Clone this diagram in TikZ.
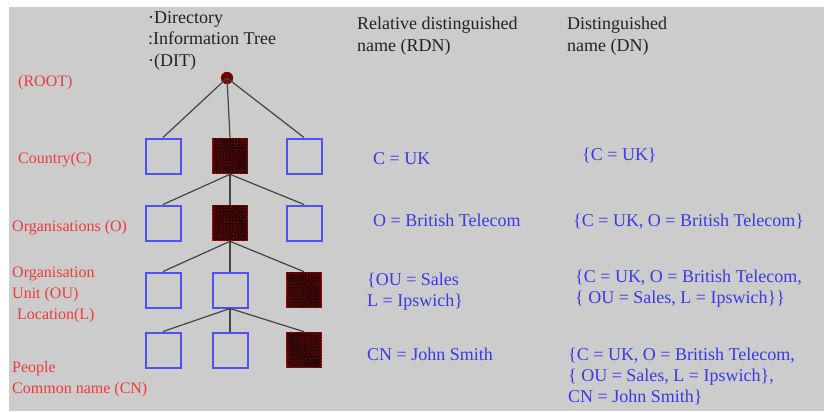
\documentclass[tikz,border=0pt]{standalone}
\usepackage{fontspec}
\setmainfont{Liberation Serif}
\usetikzlibrary{patterns}
\definecolor{panel}{HTML}{CCCCCC}
\definecolor{levelred}{HTML}{F03A3A}
\definecolor{valblue}{HTML}{3A3AE6}
\definecolor{boxblue}{HTML}{5050F5}
\definecolor{maroon}{HTML}{700000}
\definecolor{headgray}{HTML}{222222}
\definecolor{linkgray}{HTML}{444444}
\begin{document}
\begin{tikzpicture}[x=1bp,y=-1bp,
  level/.style={anchor=base west,inner sep=0pt,text=levelred,
    font=\fontsize{16bp}{21bp}\selectfont,align=left},
  heading/.style={anchor=base west,inner sep=0pt,text=headgray,
    font=\fontsize{18bp}{21.5bp}\selectfont,align=left},
  value/.style={anchor=base west,inner sep=0pt,text=valblue,
    font=\fontsize{18bp}{21bp}\selectfont,align=left},
  entry/.style={draw=boxblue,line width=2bp,minimum width=35bp,
    minimum height=35bp,inner sep=0pt},
  chosen/.style={draw=red!85!black,line width=1.6bp,fill=maroon,
    minimum width=35bp,minimum height=35bp,inner sep=0pt,
    postaction={pattern=crosshatch,pattern color=black}},
  link/.style={draw=linkgray,line width=1.2bp}]
% panel
\fill[white] (0,0) rectangle (825,411);
\fill[panel] (9,7) rectangle (824,411);
\useasboundingbox (0,0) rectangle (825,411);

% column headings (multi-line nodes sit on the baseline of their last line)
\node[heading] (dit) at (148,66) {·Directory\\:Information Tree\\·(DIT)};
\node[heading] (rdnhead) at (357,51) {Relative distinguished\\name (RDN)};
\node[heading] (dnhead) at (567,51) {Distinguished\\name (DN)};

% level names
\node[level] (lroot) at (18,86) {(ROOT)};
\node[level] (lc) at (18,163) {Country(C)};
\node[level] (lo) at (12,231) {Organisations (O)};
\node[level] (lou) at (12,319) {Organisation\\Unit (OU)\\\hspace*{5bp}Location(L)};
\node[level] (lcn) at (12,393) {People\\Common name (CN)};

% tree
\node[circle,fill=maroon,draw=maroon!80!red,minimum size=12bp,inner sep=0pt] (root) at (227,78) {};
\node[entry]  (c1) at (163,156) {};
\node[chosen] (c2) at (230,156) {};
\node[entry]  (c3) at (304,156) {};
\node[entry]  (o1) at (163,223) {};
\node[chosen] (o2) at (230,223) {};
\node[entry]  (o3) at (304,223) {};
\node[entry]  (u1) at (163,290) {};
\node[entry]  (u2) at (230,290) {};
\node[chosen] (u3) at (304,290) {};
\node[entry]  (p1) at (163,350) {};
\node[entry]  (p2) at (230,350) {};
\node[chosen] (p3) at (304,350) {};

\draw[link] (root.center) -- (c1.north);
\draw[link] (root.center) -- (c2.north);
\draw[link] (root.center) -- (c3.north);
\draw[link] (c2.south) -- (o1.north);
\draw[link] (c2.south) -- (o2.north);
\draw[link] (c2.south) -- (o3.north);
\draw[link] (o2.south) -- (u1.north);
\draw[link] (o2.south) -- (u2.north);
\draw[link] (o2.south) -- (u3.north);
\draw[link] (u2.south) -- (p1.north);
\draw[link] (u2.south) -- (p2.north);
\draw[link] (u2.south) -- (p3.north);

% relative distinguished names
\node[value] (rc) at (373,164) {C = UK};
\node[value] (ro) at (373,226) {O = British Telecom};
\node[value] (rou) at (367,306) {\{OU = Sales\\L = Ipswich\}};
\node[value] (rcn) at (367,360) {CN = John Smith};

% distinguished names
\node[value] (dc) at (582,160) {\{C = UK\}};
\node[value] (do) at (573,226) {\{C = UK, O = British Telecom\}};
\node[value] (dou) at (575,303) {\{C = UK, O = British Telecom,\\\{ OU = Sales, L = Ipswich\}\}};
\node[value] (dcn) at (568,402) {\{C = UK, O = British Telecom,\\\{ OU = Sales, L = Ipswich\},\\CN = John Smith\}};
\end{tikzpicture}
\end{document}
